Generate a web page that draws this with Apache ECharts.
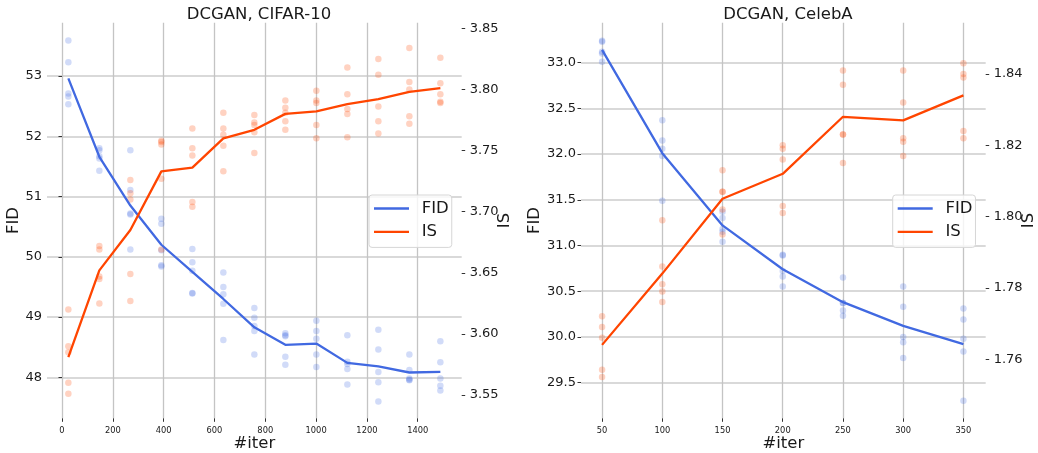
<!DOCTYPE html>
<html>
<head>
<meta charset="utf-8">
<script src="https://cdn.jsdelivr.net/npm/echarts@6/dist/echarts.min.js"></script>
<style>
html,body{margin:0;padding:0;background:#fff;}
#chart{width:1038px;height:453px;}
</style>
</head>
<body>
<div id="chart"></div>
<script>
// ---------- DCGAN, CIFAR-10 ----------
const iterC = [25, 147, 269, 391, 513, 635, 757, 879, 1001, 1123, 1245, 1367, 1489];
const fidPtsC = [
  [53.59, 53.23, 52.71, 52.66, 52.53],
  [51.80, 51.77, 51.67, 51.63, 51.43],
  [51.77, 51.11, 50.72, 50.70, 50.12],
  [50.63, 50.55, 50.11, 49.86, 49.84],
  [50.13, 49.91, 49.77, 49.40, 49.39],
  [49.74, 49.50, 49.38, 49.22, 48.62],
  [49.15, 48.99, 48.85, 48.77, 48.38],
  [48.73, 48.70, 48.68, 48.34, 48.21],
  [48.94, 48.77, 48.64, 48.38, 48.17],
  [48.70, 48.26, 48.22, 48.14, 47.88],
  [48.79, 48.46, 48.09, 47.92, 47.60],
  [48.38, 48.12, 47.98, 47.96, 47.95],
  [48.60, 48.25, 47.98, 47.86, 47.78]
];
const fidLineC = [52.96, 51.66, 50.85, 50.20, 49.75, 49.30, 48.83, 48.54, 48.56, 48.24, 48.18, 48.08, 48.09];
const isPtsC = [
  [3.620, 3.590, 3.585, 3.560, 3.551],
  [3.672, 3.669, 3.647, 3.645, 3.625],
  [3.726, 3.715, 3.710, 3.649, 3.627],
  [3.758, 3.757, 3.755, 3.727, 3.669],
  [3.768, 3.752, 3.746, 3.708, 3.704],
  [3.781, 3.768, 3.763, 3.754, 3.733],
  [3.779, 3.773, 3.771, 3.765, 3.748],
  [3.791, 3.785, 3.781, 3.774, 3.767],
  [3.799, 3.791, 3.789, 3.771, 3.760],
  [3.818, 3.796, 3.784, 3.780, 3.761],
  [3.825, 3.812, 3.786, 3.774, 3.764],
  [3.834, 3.806, 3.800, 3.778, 3.772],
  [3.826, 3.805, 3.796, 3.790, 3.789]
];
const isLineC = [3.581, 3.652, 3.685, 3.733, 3.736, 3.760, 3.767, 3.780, 3.782, 3.788, 3.792, 3.798, 3.801];
const xTicksC = [0, 200, 400, 600, 800, 1000, 1200, 1400];
const fidTicksC = [48, 49, 50, 51, 52, 53];
const isTicksC = [3.55, 3.60, 3.65, 3.70, 3.75, 3.80, 3.85];

// ---------- DCGAN, CelebA ----------
const iterA = [50, 100, 150, 200, 250, 300, 350];
const fidPtsA = [
  [33.24, 33.23, 33.12, 33.10, 33.01],
  [32.37, 32.15, 32.06, 31.98, 31.49],
  [31.37, 31.30, 31.18, 31.15, 31.04],
  [30.90, 30.89, 30.72, 30.66, 30.55],
  [30.65, 30.37, 30.37, 30.29, 30.23],
  [30.55, 30.33, 30.00, 29.94, 29.77],
  [30.31, 30.19, 29.98, 29.84, 29.30]
];
const fidLineA = [33.14, 32.01, 31.22, 30.74, 30.38, 30.12, 29.92];
const isPtsA = [
  [1.772, 1.769, 1.766, 1.757, 1.755],
  [1.799, 1.786, 1.781, 1.779, 1.776],
  [1.813, 1.807, 1.807, 1.802, 1.795],
  [1.820, 1.819, 1.816, 1.803, 1.801],
  [1.841, 1.837, 1.823, 1.823, 1.815],
  [1.841, 1.832, 1.822, 1.821, 1.817],
  [1.843, 1.840, 1.839, 1.824, 1.822]
];
const isLineA = [1.764, 1.784, 1.805, 1.812, 1.828, 1.827, 1.834];
const xTicksA = [50, 100, 150, 200, 250, 300, 350];
const fidTicksA = [29.5, 30.0, 30.5, 31.0, 31.5, 32.0, 32.5, 33.0];
const isTicksA = [1.76, 1.78, 1.80, 1.82, 1.84];

const titles = ['DCGAN, CIFAR-10', 'DCGAN, CelebA'];

// ---------- styling ----------
const FONT = 'DejaVu Sans';
const BLUE = '#4169E1', ORANGE = '#FF4500';
const BLUE_A = 'rgba(65,105,225,0.3)', ORANGE_A = 'rgba(255,69,0,0.3)';
const TXT = '#1a1a1a';

function pts(iters, arr) {
  const out = [];
  iters.forEach((x, i) => arr[i].forEach(v => out.push([x, v])));
  return out;
}
function line(iters, arr) { return iters.map((x, i) => [x, arr[i]]); }

function xAxis(grid, min, max, ticks) {
  return {
    gridIndex: grid, type: 'value', min: min, max: max,
    axisLine: {show: false},
    axisTick: {show: true, length: 3.5, customValues: ticks, lineStyle: {color: '#333', width: 1}},
    axisLabel: {customValues: ticks, fontSize: 8.3, color: TXT, margin: 9, fontFamily: FONT,
      formatter: v => String(v)},
    splitLine: {show: true, lineStyle: {color: '#c4c4c4', width: 1.3}},
    name: '#iter', nameLocation: 'middle', nameGap: 17, nameMoveOverlap: false,
    nameTextStyle: {fontSize: 16.5, color: TXT, fontFamily: FONT}
  };
}
function yAxis(grid, pos, name, min, max, ticks, dec, split, gap) {
  return {
    gridIndex: grid, type: 'value', position: pos, min: min, max: max,
    axisLine: {show: false},
    axisTick: {show: true, length: 3.5, customValues: ticks, lineStyle: {color: '#333', width: 1}},
    axisLabel: {customValues: ticks, fontSize: 13, color: TXT, margin: pos === 'left' ? 5 : 8,
      fontFamily: FONT, formatter: v => Number(v).toFixed(dec)},
    splitLine: {show: split, lineStyle: {color: '#cdcdcd', width: 1.6}},
    name: name, nameLocation: 'middle', nameGap: gap, nameRotate: 90, nameMoveOverlap: false,
    nameTextStyle: {fontSize: 16.5, color: TXT, fontFamily: FONT}
  };
}
function legend(left) {
  return {
    left: left, top: 195, orient: 'vertical', data: ['FID', 'IS'], icon: 'rect',
    itemWidth: 35, itemHeight: 2.3, itemGap: 3.4, padding: [3.5, 3, 5.5, 5],
    backgroundColor: 'rgba(255,255,255,0.8)', borderColor: '#d6d6d6', borderWidth: 1, borderRadius: 3,
    selectedMode: false,
    textStyle: {fontSize: 16.5, lineHeight: 20, padding: [0, 0, 0, 7.7], color: TXT, fontFamily: FONT}
  };
}
function series(xi, yF, yI, iters, fP, fL, iP, iL) {
  return [
    {type: 'scatter', name: 'FID samples', xAxisIndex: xi, yAxisIndex: yF, data: pts(iters, fP),
      symbolSize: 6.5, itemStyle: {color: BLUE_A}, silent: true},
    {type: 'line', name: 'FID', xAxisIndex: xi, yAxisIndex: yF, data: line(iters, fL),
      showSymbol: false, symbol: 'none', lineStyle: {color: BLUE, width: 2.3}, itemStyle: {color: BLUE}},
    {type: 'scatter', name: 'IS samples', xAxisIndex: xi, yAxisIndex: yI, data: pts(iters, iP),
      symbolSize: 6.5, itemStyle: {color: ORANGE_A}, silent: true},
    {type: 'line', name: 'IS', xAxisIndex: xi, yAxisIndex: yI, data: line(iters, iL),
      showSymbol: false, symbol: 'none', lineStyle: {color: ORANGE, width: 2.3}, itemStyle: {color: ORANGE}}
  ];
}

const chart = echarts.init(document.getElementById('chart'), null, {renderer: 'canvas'});
chart.setOption({
  animation: false,
  backgroundColor: '#fff',
  textStyle: {fontFamily: FONT},
  title: [
    {text: titles[0], left: 254, top: 1, textAlign: 'center',
      textStyle: {fontSize: 16.5, fontWeight: 'normal', color: TXT, fontFamily: FONT}},
    {text: titles[1], left: 783, top: 1, textAlign: 'center',
      textStyle: {fontSize: 16.5, fontWeight: 'normal', color: TXT, fontFamily: FONT}}
  ],
  legend: [legend(369), legend(892.7)],
  grid: [
    {left: 47, top: 22.7, width: 414.7, height: 395.6, outerBoundsMode: 'none', containLabel: false},
    {left: 581, top: 22.7, width: 404.7, height: 395.6, outerBoundsMode: 'none', containLabel: false}
  ],
  xAxis: [xAxis(0, -59, 1573, xTicksC), xAxis(1, 32.5, 368.5, xTicksA)],
  yAxis: [
    yAxis(0, 'left', 'FID', 47.32, 53.885, fidTicksC, 0, true, 25),
    yAxis(0, 'right', 'IS', 3.531, 3.8546, isTicksC, 2, false, 35),
    yAxis(1, 'left', 'FID', 29.109, 33.438, fidTicksA, 1, true, 38),
    yAxis(1, 'right', 'IS', 1.7434, 1.8544, isTicksA, 2, false, 35)
  ],
  series: [].concat(
    series(0, 0, 1, iterC, fidPtsC, fidLineC, isPtsC, isLineC),
    series(1, 2, 3, iterA, fidPtsA, fidLineA, isPtsA, isLineA)
  )
});
</script>
</body>
</html>
